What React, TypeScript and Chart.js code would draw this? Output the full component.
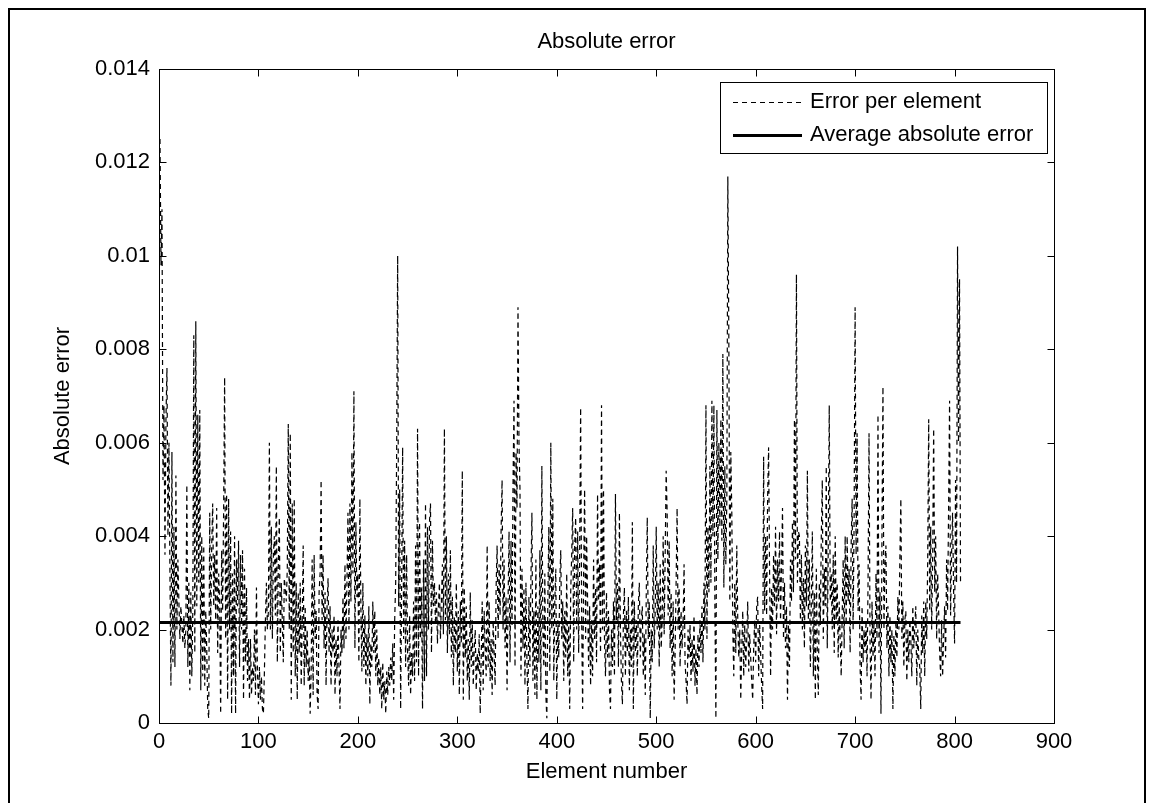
import React, { useEffect, useRef } from "react";
import { Chart, registerables } from "chart.js";

Chart.register(...registerables);

const chartTitle = "Absolute error";
const xAxisTitle = "Element number";
const yAxisTitle = "Absolute error";
const legendLabels = ["Error per element", "Average absolute error"];
const xTickLabels = ["0", "100", "200", "300", "400", "500", "600", "700", "800", "900"];
const yTickLabels = ["0", "0.002", "0.004", "0.006", "0.008", "0.01", "0.012", "0.014"];
const averageError = 0.00215;
// error values below are written in thousandths (x 0.001)
const errorUnit = 0.001;

const err001to100 = [
  12.5, 9.8, 11.0, 5.2, 6.8, 3.6, 6.5, 7.6, 4.0, 6.0,
  3.2, 0.8, 5.8, 1.3, 4.2, 1.2, 5.3, 2.0, 3.5, 2.6,
  1.8, 2.5, 2.1, 1.7, 2.3, 1.6, 2.0, 5.1, 1.2, 3.0,
  0.7, 2.8, 1.0, 2.4, 8.3, 1.5, 8.6, 2.5, 6.6, 3.0,
  6.7, 0.7, 4.0, 1.0, 3.8, 0.8, 2.4, 1.6, 0.3, 0.1,
  4.5, 2.0, 3.8, 4.7, 2.5, 3.6, 2.2, 4.6, 1.5, 3.2,
  2.6, 0.2, 3.7, 2.4, 4.6, 7.4, 1.8, 4.9, 0.5, 4.8,
  2.0, 4.1, 0.2, 3.2, 1.0, 4.0, 0.2, 3.5, 2.5, 3.9,
  1.2, 3.6, 2.0, 3.7, 0.5, 3.3, 1.3, 2.9, 0.9, 1.8,
  0.5, 1.8, 0.6, 1.2, 0.9, 2.0, 0.6, 2.9, 1.1, 0.4,
];
const err101to200 = [
  1.2, 0.5, 1.0, 0.3, 0.2, 1.1, 2.2, 3.0, 2.0, 2.4,
  6.0, 2.0, 4.2, 1.8, 3.6, 4.0, 2.3, 5.5, 1.3, 3.4,
  4.4, 1.5, 3.0, 2.2, 1.3, 3.1, 2.9, 2.6, 3.3, 6.4,
  2.0, 6.2, 0.5, 4.7, 1.5, 4.8, 1.0, 3.0, 0.5, 2.8,
  1.5, 3.0, 0.8, 2.2, 3.8, 0.8, 2.5, 1.2, 2.0, 0.9,
  1.4, 0.2, 1.1, 3.5, 0.6, 3.6, 1.8, 2.4, 0.6, 0.3,
  2.8, 3.2, 5.2, 2.2, 3.6, 1.6, 2.8, 0.8, 2.5, 3.1,
  1.5, 2.5, 0.8, 2.0, 1.5, 2.3, 0.6, 1.8, 1.0, 2.2,
  1.2, 0.3, 2.0, 1.5, 2.7, 1.6, 3.4, 1.8, 3.0, 4.5,
  2.0, 4.7, 2.6, 5.8, 3.2, 7.1, 1.6, 4.3, 2.7, 3.2,
];
const err201to300 = [
  1.3, 4.8, 2.5, 1.1, 3.0, 1.2, 2.3, 0.8, 1.9, 1.0,
  2.5, 0.4, 1.7, 1.2, 2.6, 1.5, 2.4, 1.0, 2.0, 0.8,
  1.4, 0.6, 1.2, 0.3, 1.3, 0.5, 0.9, 0.2, 1.1, 0.6,
  1.2, 0.8, 1.4, 0.9, 1.7, 0.5, 2.2, 3.0, 5.9, 10.0,
  2.5, 5.0, 0.3, 3.0, 5.9, 1.8, 3.9, 1.2, 3.6, 1.5,
  0.8, 2.3, 0.6, 1.5, 1.0, 2.6, 0.9, 3.8, 1.3, 6.3,
  1.0, 4.3, 1.8, 2.9, 0.3, 3.5, 0.9, 4.7, 1.0, 4.2,
  2.0, 4.3, 4.7, 1.5, 3.9, 2.5, 3.0, 2.1, 2.8, 1.7,
  2.5, 3.0, 1.8, 2.6, 3.4, 1.9, 6.3, 2.2, 4.0, 1.5,
  3.2, 1.9, 3.7, 1.4, 2.7, 0.8, 2.3, 1.5, 3.0, 1.1,
];
const err301to400 = [
  2.4, 0.6, 2.6, 1.7, 5.4, 0.5, 2.9, 1.4, 2.5, 0.9,
  1.8, 0.5, 2.8, 1.2, 2.2, 0.8, 1.6, 2.0, 0.7, 1.5,
  1.1, 1.9, 0.2, 1.4, 2.6, 0.7, 2.4, 1.6, 1.0, 3.8,
  1.2, 2.6, 0.9, 1.8, 0.6, 2.2, 1.5, 0.8, 2.9, 3.8,
  1.8, 3.4, 2.3, 4.1, 5.2, 2.0, 3.5, 1.6, 2.7, 0.7,
  2.6, 4.1, 1.3, 3.9, 2.1, 5.1, 6.9, 1.2, 5.8, 4.6,
  8.9, 6.0, 5.0, 1.0, 3.3, 1.6, 2.9, 0.8, 3.0, 1.3,
  0.3, 2.7, 1.2, 3.1, 4.5, 0.9, 2.4, 0.6, 3.5, 0.5,
  2.5, 1.3, 3.7, 0.7, 5.5, 2.0, 1.2, 3.2, 0.6, 0.1,
  2.6, 4.2, 1.1, 6.0, 2.0, 4.8, 0.9, 2.6, 3.3, 0.5,
];
const err401to500 = [
  2.2, 1.4, 3.0, 3.7, 1.8, 2.6, 0.9, 2.4, 1.4, 3.2,
  1.0, 2.1, 0.3, 2.8, 3.6, 4.6, 1.3, 3.8, 4.4, 2.0,
  4.1, 1.5, 3.6, 6.75, 2.3, 0.3, 3.2, 5.0, 1.8, 4.0,
  2.6, 1.2, 2.5, 0.8, 2.2, 1.0, 3.5, 1.8, 2.9, 1.3,
  4.9, 2.6, 3.4, 1.5, 6.8, 2.0, 5.0, 1.7, 1.0, 2.8,
  1.4, 2.4, 0.7, 0.3, 2.0, 1.2, 2.6, 1.0, 4.9, 2.2,
  3.0, 1.2, 4.5, 2.0, 0.9, 0.4, 2.3, 2.9, 1.0, 2.4,
  1.5, 2.7, 0.7, 2.0, 1.2, 4.3, 0.3, 2.6, 1.5, 2.2,
  1.0, 2.5, 3.0, 1.4, 2.2, 2.5, 1.0, 1.9, 0.6, 2.8,
  4.4, 1.8, 2.6, 0.1, 2.0, 1.3, 3.8, 1.6, 2.4, 4.2,
];
const err501to600 = [
  2.0, 3.0, 1.2, 3.4, 1.6, 2.2, 4.0, 1.9, 3.6, 5.4,
  4.5, 2.3, 3.9, 1.6, 2.8, 1.0, 2.6, 0.5, 1.5, 3.0,
  4.6, 2.0, 2.9, 1.2, 2.4, 1.6, 2.1, 3.4, 1.3, 0.9,
  0.4, 2.0, 1.4, 2.1, 0.9, 1.8, 1.1, 2.3, 0.8, 1.6,
  0.6, 1.9, 1.2, 2.2, 1.5, 2.5, 1.3, 3.0, 2.0, 6.8,
  1.8, 4.2, 2.8, 5.5, 3.0, 6.9, 4.0, 6.8, 2.5, 0.1,
  6.7, 3.5, 6.0, 4.2, 6.5, 3.9, 7.9, 2.9, 5.5, 3.4,
  4.8, 11.7, 8.3, 2.6, 5.8, 4.5, 2.0, 1.0, 3.0, 1.5,
  3.8, 2.2, 1.4, 2.0, 0.5, 1.6, 2.4, 1.0, 2.1, 1.2,
  1.8, 2.6, 1.1, 1.9, 1.4, 0.9, 0.5, 1.6, 2.2, 1.3,
];
const err601to700 = [
  2.5, 2.7, 1.0, 2.1, 1.5, 0.8, 0.3, 5.7, 2.4, 4.0,
  2.3, 4.8, 5.9, 3.2, 1.0, 2.9, 2.0, 3.6, 2.5, 4.2,
  1.9, 3.5, 2.6, 4.1, 2.2, 3.3, 4.6, 1.8, 3.0, 1.6,
  2.5, 0.5, 2.1, 1.2, 3.5, 2.6, 4.3, 2.8, 6.5, 3.5,
  9.6, 3.0, 4.1, 4.0, 2.2, 3.6, 2.0, 3.1, 1.6, 3.8,
  2.5, 5.4, 2.2, 3.5, 1.2, 2.6, 4.1, 1.0, 2.8, 0.5,
  3.3, 1.5, 0.6, 3.0, 2.1, 4.0, 5.2, 1.8, 3.3, 2.5,
  5.5, 1.6, 3.8, 6.8, 2.6, 3.2, 2.0, 3.6, 1.5, 4.0,
  2.2, 3.0, 1.4, 2.6, 1.8, 1.0, 2.3, 3.5, 1.6, 4.0,
  2.1, 4.0, 2.6, 3.3, 1.5, 3.8, 4.8, 2.0, 4.4, 8.9,
];
const err701to806 = [
  3.6, 6.2, 2.4, 3.4, 1.2, 0.5, 2.5, 1.3, 2.0, 1.5,
  2.2, 1.0, 3.0, 6.2, 1.8, 0.5, 2.6, 1.4, 2.2, 1.0,
  3.2, 1.8, 6.6, 1.5, 2.8, 0.2, 4.0, 7.2, 2.0, 3.4,
  3.8, 1.6, 2.5, 1.0, 2.3, 1.3, 2.0, 0.3, 1.9, 1.0,
  2.2, 1.4, 2.7, 2.0, 3.5, 4.8, 1.8, 2.6, 1.2, 2.2,
  2.4, 0.9, 2.0, 1.3, 2.2, 1.8, 1.0, 2.5, 1.6, 2.1,
  2.5, 0.8, 2.0, 1.4, 1.2, 0.3, 2.3, 1.5, 2.6, 1.0,
  2.6, 1.8, 3.5, 6.5, 2.4, 4.2, 2.0, 3.6, 6.3, 2.8,
  4.0, 1.8, 3.2, 2.4, 1.5, 1.0, 2.2, 1.0, 1.8, 2.5,
  1.4, 3.5, 2.4, 4.6, 6.9, 2.3, 3.6, 4.5, 2.9, 1.7,
  5.2, 3.0, 10.2, 6.0, 9.5, 3.0,
];

const FONT = "'Liberation Sans', Arial, Helvetica, sans-serif";

const frameAndAxesPlugin = {
  id: "frameAndAxes",
  beforeDraw(chart: any) {
    const ctx = chart.ctx;
    ctx.save();
    ctx.fillStyle = "#ffffff";
    ctx.fillRect(0, 0, chart.width, chart.height);
    ctx.strokeStyle = "#000000";
    ctx.lineWidth = 2;
    ctx.strokeRect(9, 9, 1136, chart.height + 40);
    ctx.restore();
  },
  afterDraw(chart: any) {
    const ctx = chart.ctx;
    const a = chart.chartArea;
    const xs = chart.scales.x;
    const ys = chart.scales.y;
    ctx.save();
    ctx.strokeStyle = "#000000";
    ctx.lineWidth = 1;
    const L = Math.round(a.left) + 0.5;
    const R = Math.round(a.right) + 0.5;
    const T = Math.round(a.top) + 0.5;
    const B = Math.round(a.bottom) + 0.5;
    ctx.strokeRect(L, T, R - L, B - T);
    const tl = 7;
    ctx.beginPath();
    xs.ticks.forEach((t: any) => {
      const px = Math.round(xs.getPixelForValue(t.value)) + 0.5;
      ctx.moveTo(px, B);
      ctx.lineTo(px, B - tl);
      ctx.moveTo(px, T);
      ctx.lineTo(px, T + tl);
    });
    ys.ticks.forEach((t: any) => {
      const py = Math.round(ys.getPixelForValue(t.value)) + 0.5;
      ctx.moveTo(L, py);
      ctx.lineTo(L + tl, py);
      ctx.moveTo(R, py);
      ctx.lineTo(R - tl, py);
    });
    ctx.stroke();

    // legend
    const boxR = Math.round(a.right) - 7;
    const boxL = boxR - 327;
    const boxT = Math.round(a.top) + 13;
    const boxB = boxT + 71;
    ctx.fillStyle = "#ffffff";
    ctx.fillRect(boxL, boxT, boxR - boxL, boxB - boxT);
    ctx.lineWidth = 1;
    ctx.setLineDash([]);
    ctx.strokeRect(boxL + 0.5, boxT + 0.5, boxR - boxL, boxB - boxT);
    ctx.font = `22px ${FONT}`;
    ctx.textBaseline = "middle";
    ctx.textAlign = "left";
    ctx.fillStyle = "#000000";
    chart.data.datasets.forEach((ds: any, i: number) => {
      const y = boxT + 20 + i * 33;
      ctx.save();
      ctx.lineWidth = ds.borderWidth;
      ctx.setLineDash(ds.borderDash || []);
      ctx.beginPath();
      ctx.moveTo(boxL + 13, Math.round(y) + 0.5);
      ctx.lineTo(boxL + 82, Math.round(y) + 0.5);
      ctx.stroke();
      ctx.restore();
      ctx.fillText(ds.label, boxL + 90, y);
    });
    ctx.restore();
  },
};

export default function App() {
  const canvasRef = useRef<HTMLCanvasElement | null>(null);

  useEffect(() => {
    const canvas = canvasRef.current;
    if (!canvas) return;
    const allErr = [
      ...err001to100,
      ...err101to200,
      ...err201to300,
      ...err301to400,
      ...err401to500,
      ...err501to600,
      ...err601to700,
      ...err701to806,
    ];
    const errorPoints = allErr.map((v, i) => ({ x: i + 1, y: v * errorUnit }));
    const avgPoints = [
      { x: 1, y: averageError },
      { x: allErr.length, y: averageError },
    ];

    const chart = new Chart(canvas, {
      type: "line",
      data: {
        datasets: [
          {
            label: legendLabels[0],
            data: errorPoints,
            borderColor: "#000000",
            borderWidth: 1.2,
            borderDash: [5, 4],
            pointRadius: 0,
            tension: 0,
            fill: false,
            order: 1,
          },
          {
            label: legendLabels[1],
            data: avgPoints,
            borderColor: "#000000",
            borderWidth: 3,
            pointRadius: 0,
            tension: 0,
            fill: false,
            order: 0,
          },
        ],
      },
      options: {
        responsive: false,
        animation: false,
        devicePixelRatio: 1,
        layout: { padding: { left: 0, right: 106, top: 0, bottom: 0 } },
        plugins: {
          legend: { display: false },
          tooltip: { enabled: false },
          title: {
            display: true,
            fullSize: false,
            text: chartTitle,
            color: "#000000",
            font: { family: FONT, size: 22, weight: "normal" },
            padding: { top: 29, bottom: 13.6 },
          },
        },
        scales: {
          x: {
            type: "linear",
            min: 0,
            max: 900,
            afterFit: (s: any) => {
              s.height = 80;
            },
            ticks: {
              stepSize: 100,
              padding: 6,
              color: "#000000",
              font: { family: FONT, size: 22 },
              maxRotation: 0,
              callback: (_v: any, i: number) => xTickLabels[i],
            },
            grid: { display: false, drawTicks: false },
            border: { display: false },
            title: {
              display: true,
              text: xAxisTitle,
              color: "#000000",
              font: { family: FONT, size: 22 },
              padding: { top: 0, bottom: 18 },
            },
          },
          y: {
            type: "linear",
            min: 0,
            max: 0.014,
            afterFit: (s: any) => {
              s.width = 159;
            },
            ticks: {
              stepSize: 0.002,
              padding: 9,
              color: "#000000",
              font: { family: FONT, size: 22 },
              callback: (_v: any, i: number) => yTickLabels[i],
            },
            grid: { display: false, drawTicks: false },
            border: { display: false },
            title: {
              display: true,
              text: yAxisTitle,
              color: "#000000",
              font: { family: FONT, size: 22 },
              padding: { top: 50, bottom: 0 },
            },
          },
        },
      },
      plugins: [frameAndAxesPlugin],
    });
    return () => chart.destroy();
  }, []);

  return (
    <div style={{ position: "fixed", left: 0, top: 0, width: 1160, height: 803, background: "#fff" }}>
      <canvas ref={canvasRef} width={1160} height={803} style={{ width: 1160, height: 803, display: "block" }} />
    </div>
  );
}
